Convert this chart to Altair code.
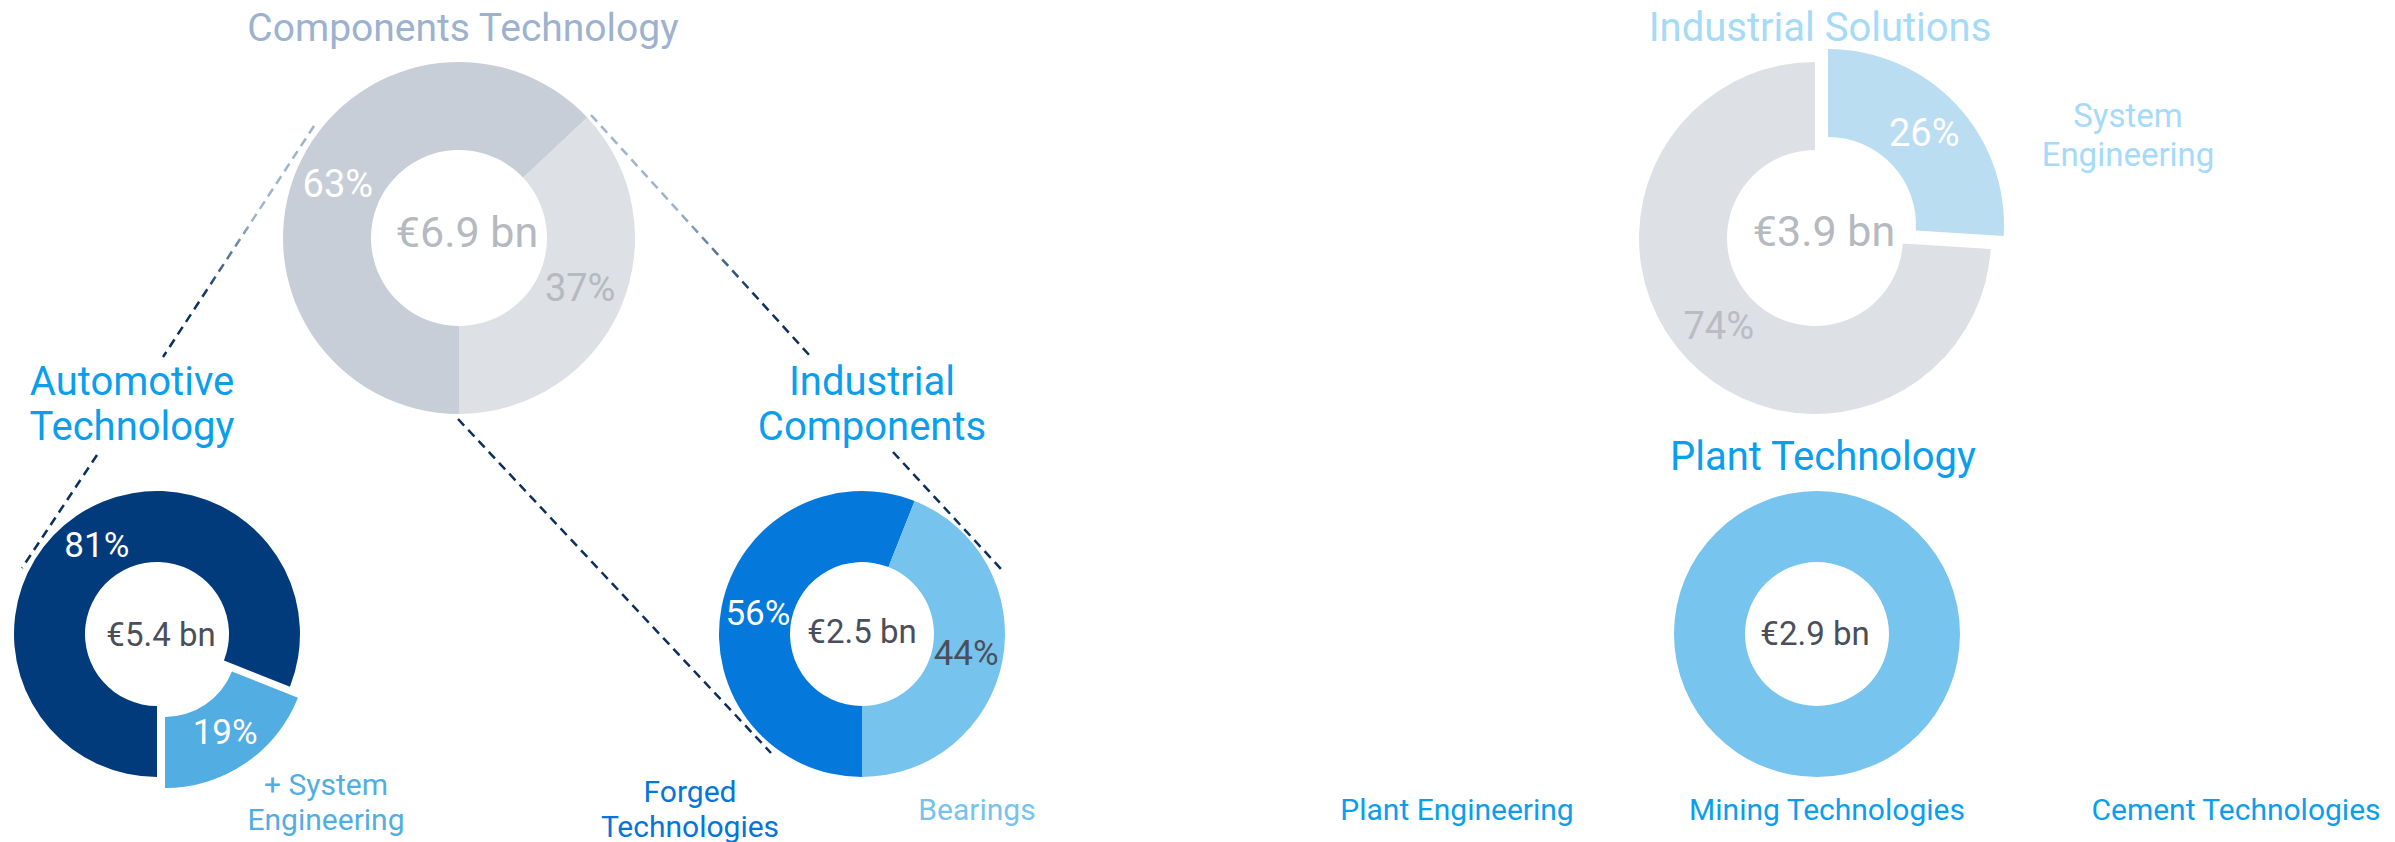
import math
import altair as alt
import pandas as pd

# ---------------- data ----------------
donut_names = ["Components Technology", "Automotive Technology", "Industrial Components",
               "Industrial Solutions", "Plant Technology"]
sales_bn = [6.9, 5.4, 2.5, 3.9, 2.9]

ct_segments = ["Automotive Technology", "Industrial Components"]
ct_shares = [63, 37]
at_segments = ["Automotive Technology", "System Engineering"]
at_shares = [81, 19]
ic_segments = ["Forged Technologies", "Bearings"]
ic_shares = [56, 44]
is_segments = ["System Engineering", "Plant Technology"]
is_shares = [26, 74]
pt_segments = ["Plant Technology"]
pt_shares = [100]

at_sub_labels = ["+ System Engineering"]
ic_sub_labels = ["Forged Technologies", "Bearings"]
is_sub_labels = ["System Engineering"]
pt_sub_labels = ["Plant Engineering", "Mining Technologies", "Cement Technologies"]

# ---------------- style / layout ----------------
FONT = "Roboto"
TAU = 2 * math.pi
BLUE = "#0A9EEE"
DARK_TXT = "#4A4F5B"
GREY_TXT = "#B5B9C0"
LINE_DARK = "#0C2F5E"
LINE_LIGHT = "#9DB3CF"

segment_table = {
    "Components Technology": (ct_segments, ct_shares),
    "Automotive Technology": (at_segments, at_shares),
    "Industrial Components": (ic_segments, ic_shares),
    "Industrial Solutions": (is_segments, is_shares),
    "Plant Technology": (pt_segments, pt_shares),
}

donut_layout = {
    "Components Technology": dict(cx=459, cy=238, ro=176, ri=88, start=math.pi, lab_r=132, lab_size=38,
                                  tot_size=43, tot_base=247, tot_dx=8, tot_color=GREY_TXT, labels=True,
                                  explode=None, off=(0, 0)),
    "Automotive Technology": dict(cx=157, cy=634, ro=143, ri=72, start=math.pi, lab_r=107, lab_size=35,
                                  tot_size=33, tot_base=646, tot_dx=4, tot_color=DARK_TXT, labels=True,
                                  explode="System Engineering", off=(8, 11)),
    "Industrial Components": dict(cx=862, cy=634, ro=143, ri=72, start=math.pi, lab_r=106, lab_size=35,
                                  tot_size=33, tot_base=643, tot_dx=0, tot_color=DARK_TXT, labels=True,
                                  explode=None, off=(0, 0)),
    "Industrial Solutions": dict(cx=1815, cy=238, ro=176, ri=88, start=0.0, lab_r=132, lab_size=38,
                                 tot_size=43, tot_base=246, tot_dx=9, tot_color=GREY_TXT, labels=True,
                                 explode="System Engineering", off=(13, -13)),
    "Plant Technology": dict(cx=1817, cy=634, ro=143, ri=72, start=0.0, lab_r=107, lab_size=35,
                             tot_size=33, tot_base=645, tot_dx=-2, tot_color=DARK_TXT, labels=False,
                             explode=None, off=(0, 0)),
}

slice_colors = {
    "Components Technology|Automotive Technology": "#C8CED7",
    "Components Technology|Industrial Components": "#DDE0E5",
    "Automotive Technology|Automotive Technology": "#023B7C",
    "Automotive Technology|System Engineering": "#52AEE2",
    "Industrial Components|Forged Technologies": "#0478DB",
    "Industrial Components|Bearings": "#76C3EE",
    "Industrial Solutions|System Engineering": "#BADDF2",
    "Industrial Solutions|Plant Technology": "#DDE0E5",
    "Plant Technology|Plant Technology": "#77C4EE",
}
label_colors = {
    "Components Technology|Automotive Technology": "#FFFFFF",
    "Components Technology|Industrial Components": GREY_TXT,
    "Automotive Technology|Automotive Technology": "#FFFFFF",
    "Automotive Technology|System Engineering": "#FFFFFF",
    "Industrial Components|Forged Technologies": "#FFFFFF",
    "Industrial Components|Bearings": DARK_TXT,
    "Industrial Solutions|System Engineering": "#FFFFFF",
    "Industrial Solutions|Plant Technology": "#B9BCC2",
    "Plant Technology|Plant Technology": "#FFFFFF",
}

# title text: centre x, baselines (one per line), colour, size
title_layout = {
    "Components Technology": (463, [41], "#9CB2CE", 39),
    "Automotive Technology": (132, [395, 440], BLUE, 40),
    "Industrial Components": (872, [395, 440], BLUE, 40),
    "Industrial Solutions": (1820, [41], "#A5DAF8", 40),
    "Plant Technology": (1823, [470], BLUE, 40),
}
sub_label_layout = {
    "+ System Engineering": (326, [795, 830], "#52AEE2", 30),
    "Forged Technologies": (690, [802, 837], "#0575D8", 30),
    "Bearings": (977, [820], "#76C3EE", 30),
    "System Engineering": (2128, [127, 166], "#A5DAF8", 33),
    "Plant Engineering": (1457, [820], BLUE, 30),
    "Mining Technologies": (1827, [820], BLUE, 30),
    "Cement Technologies": (2236, [820], BLUE, 30),
}

# dashed connector lines (x1, y1, x2, y2, gradient?)
connectors = [
    (314, 126, 163, 357, True),
    (97, 455, 22, 568, False),
    (591, 115, 811, 357, True),
    (893, 452, 1001, 569, False),
    (458, 419, 771, 753, False),
]

all_keys = list(slice_colors.keys())
color_scale = alt.Scale(domain=all_keys, range=[slice_colors[k] for k in all_keys])
fill_scale = alt.Scale(domain=all_keys, range=[label_colors[k] for k in all_keys])

layers = []

for name, total in zip(donut_names, sales_bn):
    segs, shares = segment_table[name]
    L = donut_layout[name]
    df = pd.DataFrame({"donut": name, "segment": segs, "share": shares, "k": list(range(len(segs)))})
    df["key"] = df["donut"] + "|" + df["segment"]
    explode_keys = [f"{name}|{L['explode']}"] if L["explode"] else ["__none__"]
    pred = alt.FieldOneOfPredicate(field="key", oneOf=explode_keys)

    theta = alt.Theta("share:Q", stack=True, scale=alt.Scale(range=[L["start"], L["start"] + TAU]))
    order = alt.Order("k:Q", sort="ascending")
    base = alt.Chart(df).encode(theta=theta, order=order)
    color = alt.Color("key:N", scale=color_scale, legend=None)

    layers.append(
        base.mark_arc(innerRadius=L["ri"], outerRadius=L["ro"], x=L["cx"], y=L["cy"]).encode(
            color=color, opacity=alt.condition(pred, alt.value(0), alt.value(1)))
    )
    dx, dy = L["off"]
    if L["explode"]:
        layers.append(
            base.mark_arc(innerRadius=L["ri"], outerRadius=L["ro"], x=L["cx"] + dx, y=L["cy"] + dy).encode(
                color=color, opacity=alt.condition(pred, alt.value(1), alt.value(0)))
        )
    if L["labels"]:
        lab = base.transform_calculate(label="datum.share + '%'")
        layers.append(
            lab.mark_text(radius=L["lab_r"], x=L["cx"], y=L["cy"], font=FONT, fontSize=L["lab_size"],
                          align="center", baseline="middle").encode(
                text="label:N",
                fill=alt.Fill("key:N", scale=fill_scale, legend=None),
                opacity=alt.condition(pred, alt.value(0), alt.value(1)))
        )
        if L["explode"]:
            layers.append(
                lab.mark_text(radius=L["lab_r"], x=L["cx"] + dx, y=L["cy"] + dy, font=FONT,
                              fontSize=L["lab_size"], align="center", baseline="middle").encode(
                    text="label:N",
                    fill=alt.Fill("key:N", scale=fill_scale, legend=None),
                    opacity=alt.condition(pred, alt.value(1), alt.value(0)))
            )
    # centre total
    tot = pd.DataFrame({"donut": [name], "total": [total]})
    layers.append(
        alt.Chart(tot).transform_calculate(t="'€' + format(datum.total, '.1f') + ' bn'")
        .mark_text(x=L["cx"] + L["tot_dx"], y=L["tot_base"], font=FONT, fontSize=L["tot_size"],
                   align="center", baseline="alphabetic", color=L["tot_color"])
        .encode(text="t:N")
    )


def text_lines(txt, n):
    if n == 1:
        return [txt]
    a, b = txt.rsplit(" ", 1)
    return [a, b]


def add_text(txt, spec):
    cx, baselines, col, size = spec
    for line, yb in zip(text_lines(txt, len(baselines)), baselines):
        layers.append(
            alt.Chart(pd.DataFrame({"t": [line]})).mark_text(
                x=cx, y=yb, font=FONT, fontSize=size, align="center", baseline="alphabetic", color=col
            ).encode(text="t:N")
        )


for name in donut_names:
    add_text(name, title_layout[name])
for lbl in at_sub_labels + ic_sub_labels + is_sub_labels + pt_sub_labels:
    add_text(lbl, sub_label_layout[lbl])

grad = alt.LinearGradient(
    gradient="linear",
    stops=[alt.GradientStop(color=LINE_LIGHT, offset=0), alt.GradientStop(color=LINE_LIGHT, offset=0.4),
           alt.GradientStop(color=LINE_DARK, offset=0.75), alt.GradientStop(color=LINE_DARK, offset=1)],
    x1=0, y1=0, x2=0, y2=1,
)
for x1, y1, x2, y2, g in connectors:
    layers.append(
        alt.Chart(pd.DataFrame({"a": [0]})).mark_rule(
            strokeDash=[9, 6], strokeWidth=2.5, stroke=grad if g else LINE_DARK
        ).encode(x=alt.value(x1), y=alt.value(y1), x2=alt.value(x2), y2=alt.value(y2))
    )

chart = (
    alt.layer(*layers)
    .resolve_scale(theta="independent")
    .properties(width=2395, height=842, padding=0, autosize=alt.AutoSizeParams(type="none"))
    .configure_view(strokeOpacity=0)
)

chart.save("out.html", embed_options={"renderer": "svg", "actions": False})
